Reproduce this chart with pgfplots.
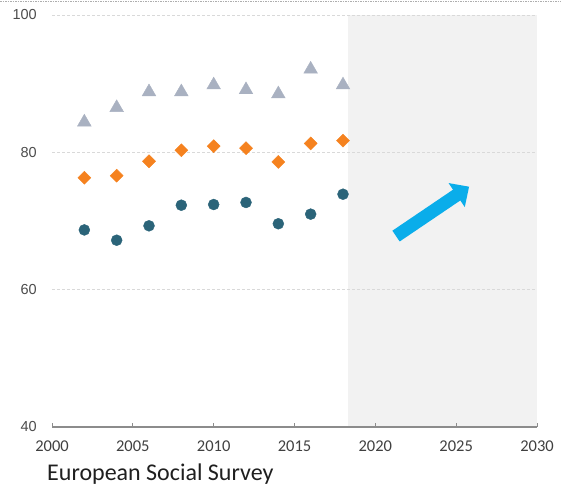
\documentclass[border=0pt]{standalone}
\usepackage{fontspec}
\usepackage{pgfplots}
\pgfplotsset{compat=1.18}
\usetikzlibrary{arrows.meta}
\newfontfamily\calibri{Carlito}
\newfontfamily\arial{Liberation Sans}
\definecolor{tri}{HTML}{A9B1C1}
\definecolor{dia}{HTML}{F5821F}
\definecolor{cir}{HTML}{2B6479}
\definecolor{arr}{HTML}{0AADEA}
\definecolor{bgshade}{HTML}{F2F2F2}
\definecolor{gridc}{HTML}{D9D9D9}
\definecolor{axc}{HTML}{8C8C8C}
\begin{document}
\begin{tikzpicture}
\draw[axc!70, line width=1pt, dash pattern=on 1.5pt off 1pt] (0pt,487.8pt) -- (561pt,487.8pt);
\begin{axis}[
  set layers,
  at={(52pt,62pt)}, anchor=south west,
  scale only axis, width=485pt, height=412pt,
  xmin=2000, xmax=2030, ymin=40, ymax=100,
  xtick={2000,2005,2010,2015,2020,2025,2030},
  xticklabels={2000,2005,2010,2015,2020,2025,2030},
  ytick={40,60,80,100},
  yticklabels={40,60,80,100},
  axis x line*=bottom, axis y line*=left,
  x axis line style={axc, line width=1.1pt, -},
  y axis line style={draw=none},
  xtick style={axc, line width=1pt},
  ytick style={draw=none},
  tick align=inside, major tick length=4pt,
  ymajorgrids, grid style={gridc, line width=0.8pt, dash pattern=on 3pt off 2pt},
  xticklabel style={font=\calibri\fontsize{16.5}{18}\selectfont, text=black!75, inner sep=0pt, anchor=north, yshift=-13.5pt},
  yticklabel style={font=\arial\fontsize{14.5}{16}\selectfont, text=black!70, inner sep=0pt, anchor=east, xshift=-15pt},
  clip=false,
]
\begin{pgfonlayer}{axis background}
\fill[bgshade] (axis cs:2018.3,40) rectangle (axis cs:2030,100);
\end{pgfonlayer}
\addplot[only marks, mark=triangle*, mark size=7.9pt, color=tri] coordinates {
(2002,84.4) (2004,86.5) (2006,88.8) (2008,88.8) (2010,89.8) (2012,89.1) (2014,88.5) (2016,92.1) (2018,89.8)};
\addplot[only marks, mark=square*, mark size=4.6pt, mark options={rotate=45}, color=dia] coordinates {
(2002,76.3) (2004,76.6) (2006,78.7) (2008,80.3) (2010,80.9) (2012,80.6) (2014,78.6) (2016,81.3) (2018,81.7)};
\addplot[only marks, mark=*, mark size=5.5pt, color=cir] coordinates {
(2002,68.7) (2004,67.2) (2006,69.3) (2008,72.3) (2010,72.4) (2012,72.7) (2014,69.6) (2016,71.0) (2018,73.9)};
\draw[arr, line width=13pt, -{Triangle[width=28pt,length=15pt]}] (axis cs:2021.28,67.8) -- (axis cs:2025.8,75.0);
\end{axis}
\node[anchor=base west, inner sep=0pt, font=\calibri\fontsize{24}{26}\selectfont, text=black!88] at (47pt,9pt) {European Social Survey};
\pgfresetboundingbox
\path[use as bounding box] (0pt,0pt) rectangle (561pt,489pt);
\end{tikzpicture}
\end{document}
